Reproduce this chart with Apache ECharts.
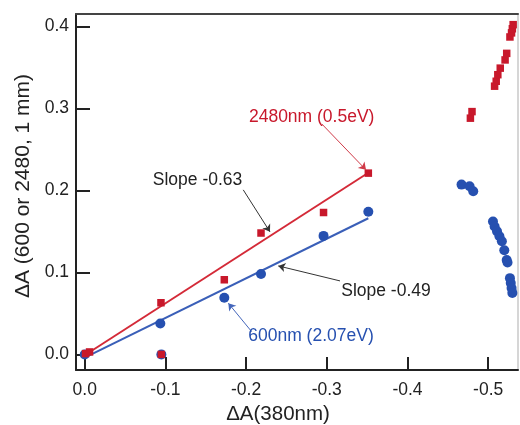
<!DOCTYPE html>
<html><head><meta charset="utf-8">
<script src="https://cdn.jsdelivr.net/npm/echarts@6/dist/echarts.min.js"></script>
<style>html,body{margin:0;padding:0;background:#fff}#c{width:520px;height:425px}</style>
</head><body><div id="c"></div>
<script>
// Axis tick values
const xTicks = [0, -0.1, -0.2, -0.3, -0.4, -0.5];
const yTicks = [0, 0.1, 0.2, 0.3, 0.4];

// 2480 nm (0.5 eV) data: [ΔA(380nm), ΔA(2480)]
const red2480 = [
  [-0.001, 0.001], [-0.006, 0.003], [-0.0945, 0.063], [-0.095, 0.0], [-0.173, 0.091],
  [-0.2185, 0.148], [-0.296, 0.173], [-0.3515, 0.221],
  [-0.478, 0.288], [-0.480, 0.296], [-0.508, 0.327], [-0.510, 0.333], [-0.512, 0.341],
  [-0.515, 0.349], [-0.521, 0.359], [-0.523, 0.367], [-0.527, 0.387], [-0.529, 0.392],
  [-0.530, 0.397], [-0.531, 0.402]
];
// 600 nm (2.07 eV) data
const blue600 = [
  [0.0, 0.0], [-0.0937, 0.0376], [-0.095, 0.0], [-0.173, 0.069], [-0.2185, 0.098],
  [-0.296, 0.1445], [-0.3515, 0.174],
  [-0.467, 0.207], [-0.477, 0.205], [-0.4815, 0.199], [-0.506, 0.162], [-0.508, 0.156],
  [-0.511, 0.150], [-0.514, 0.144], [-0.517, 0.138], [-0.520, 0.127], [-0.523, 0.115],
  [-0.524, 0.112], [-0.527, 0.093], [-0.528, 0.087], [-0.529, 0.081], [-0.530, 0.075]
];
// Linear fits (endpoints)
const redFit = [[0, -0.001], [-0.3515, 0.2215]];
const blueFit = [[0, -0.004], [-0.3515, 0.166]];

// Annotation texts and their positions (data coords)
const noteTexts = ['2480nm (0.5eV)', 'Slope -0.63', 'Slope -0.49', '600nm (2.07eV)'];
const notePos = [[-0.2813, 0.2896], [-0.1398, 0.2128], [-0.3734, 0.0774], [-0.2804, 0.0226]];
// Annotation arrows: [from, to]
const arrows = [
  [[-0.2937, 0.2811], [-0.3486, 0.2250]],
  [[-0.1965, 0.2006], [-0.2296, 0.1494]],
  [[-0.3164, 0.0896], [-0.2399, 0.1079]],
  [[-0.2069, 0.0278], [-0.1780, 0.0624]]
];

const RED = '#c8182b', BLUE = '#2650b0', INK = '#222';
const noteColors = [RED, '#222', '#222', BLUE];
const arrowColors = ['#d03a48', '#333', '#333', '#4466bb'];
const FONT = 'Liberation Sans, Arial, sans-serif';

const xRange = {min: -0.537, max: 0.0108};
const yRange = {min: -0.019, max: 0.415};

const chart = echarts.init(document.getElementById('c'), null, {renderer: 'canvas'});
chart.setOption({
  animation: false,
  backgroundColor: '#fff',
  grid: {left: 76, right: 2, top: 14, bottom: 55, containLabel: false, outerBoundsMode: 'none',
         show: false},
  xAxis: [{
    type: 'value', inverse: true, min: xRange.min, max: xRange.max, position: 'bottom',
    axisLine: {show: true, onZero: false, lineStyle: {color: INK, width: 2}},
    axisTick: {show: true, inside: true, length: 13, customValues: xTicks, lineStyle: {color: INK, width: 2}},
    axisLabel: {customValues: xTicks, formatter: v => v.toFixed(1), color: INK, fontSize: 17.5,
                fontFamily: FONT, margin: 11},
    splitLine: {show: false},
    name: 'ΔA(380nm)', nameLocation: 'middle', nameGap: 33,
    nameTextStyle: {color: INK, fontSize: 20.5, fontFamily: FONT, padding: [0, 38, 0, 0]}
  }, {
    type: 'value', inverse: true, min: xRange.min, max: xRange.max, position: 'top',
    axisLine: {show: true, onZero: false, lineStyle: {color: '#444', width: 2}},
    axisTick: {show: false}, axisLabel: {show: false}, splitLine: {show: false}
  }],
  yAxis: [{
    type: 'value', min: yRange.min, max: yRange.max, position: 'left',
    axisLine: {show: true, onZero: false, lineStyle: {color: INK, width: 2}},
    axisTick: {show: true, inside: true, length: 14, customValues: yTicks, lineStyle: {color: INK, width: 2}},
    axisLabel: {customValues: yTicks, formatter: v => v.toFixed(1), color: INK, fontSize: 17.5,
                fontFamily: FONT, margin: 7},
    splitLine: {show: false},
    name: 'ΔA (600 or 2480, 1 mm)', nameLocation: 'middle', nameGap: 42,
    nameTextStyle: {color: INK, fontSize: 21, fontFamily: FONT, padding: [0, 0, 0, 12]}
  }, {
    type: 'value', min: yRange.min, max: yRange.max, position: 'right',
    axisLine: {show: true, onZero: false, lineStyle: {color: '#c8c8c8', width: 1.5}},
    axisTick: {show: false}, axisLabel: {show: false}, splitLine: {show: false}
  }],
  series: [
    {type: 'line', data: blueFit, symbol: 'none', lineStyle: {color: '#3a5fb8', width: 2}, z: 2},
    {type: 'line', data: redFit, symbol: 'none', lineStyle: {color: '#d42a38', width: 2}, z: 2},
    {type: 'scatter', data: blue600, symbol: 'circle', symbolSize: 10,
     itemStyle: {color: BLUE, opacity: 1}, z: 3},
    {type: 'scatter', data: red2480, symbol: 'rect', symbolSize: 7.5,
     itemStyle: {color: RED, opacity: 1}, z: 4,
     markLine: {
       silent: true, symbol: ['none', 'arrow'], symbolSize: 7, animation: false,
       label: {show: false},
       data: arrows.map((a, i) => [
         {coord: a[0], lineStyle: {color: arrowColors[i], width: 1, type: 'solid'}, itemStyle: {color: arrowColors[i]}},
         {coord: a[1], lineStyle: {color: arrowColors[i], width: 1, type: 'solid'}, itemStyle: {color: arrowColors[i]}}
       ])
     },
     markPoint: {
       silent: true, symbol: 'circle', symbolSize: 1, itemStyle: {color: 'rgba(0,0,0,0)'},
       data: noteTexts.map((t, i) => ({
         name: t, coord: notePos[i],
         label: {show: true, position: 'inside', formatter: '{b}', color: noteColors[i],
                 fontSize: 17.5, fontFamily: FONT}
       }))
     }
    }
  ]
});
</script>
</body></html>
